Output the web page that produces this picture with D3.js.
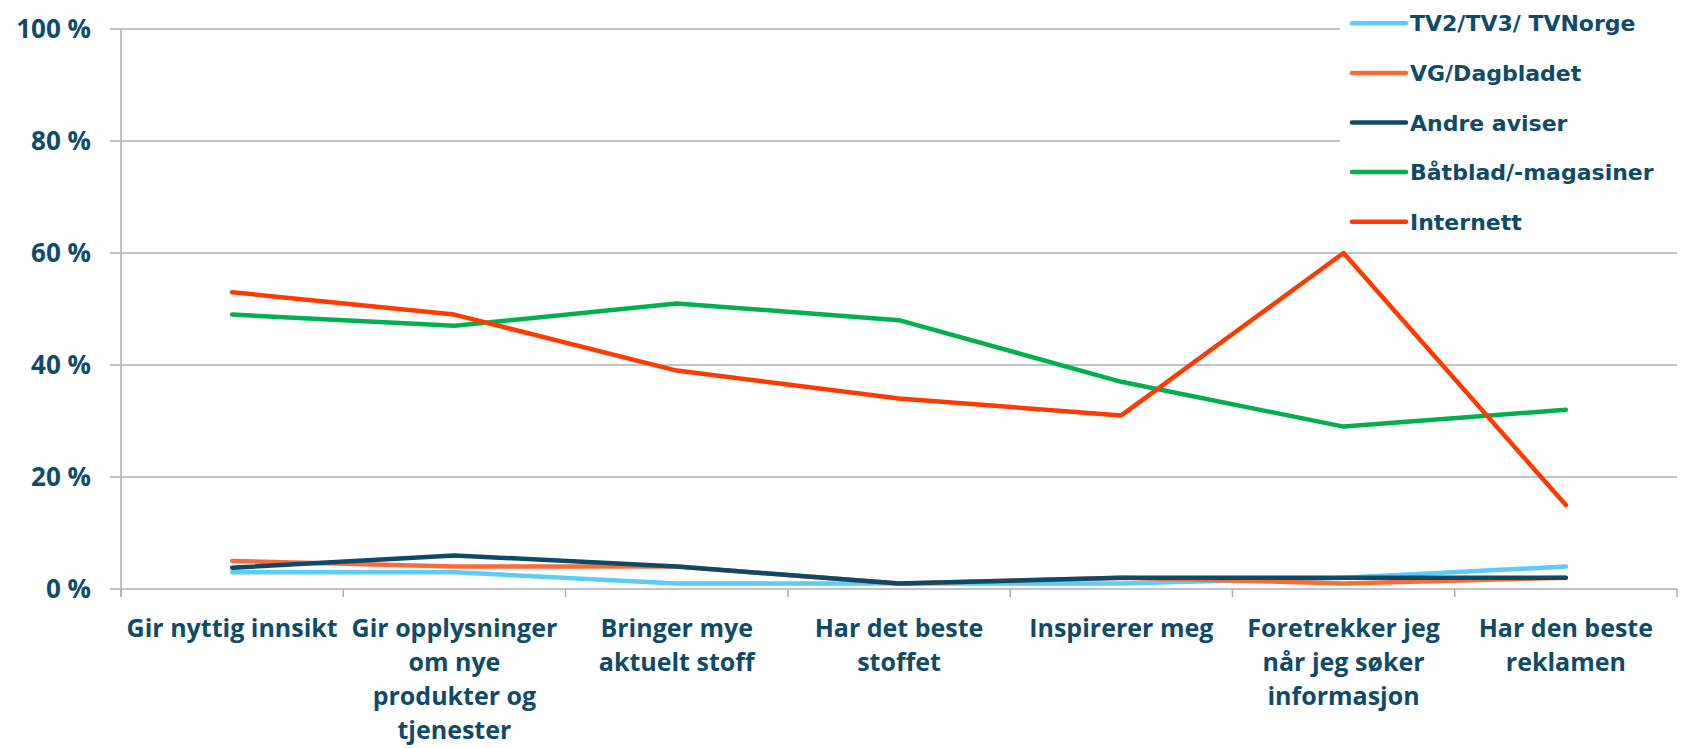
<!DOCTYPE html>
<html>
<head>
<meta charset="utf-8">
<script src="https://cdn.jsdelivr.net/npm/d3@7"></script>
<style>
  html, body { margin: 0; padding: 0; background: #fff; }
  svg text { font-family: "Open Sans", "DejaVu Sans", sans-serif; font-weight: bold; fill: #0f4b67; }
  svg .legend text { font-family: "DejaVu Sans", Verdana, sans-serif; }
</style>
</head>
<body>
<div id="chart"></div>
<script>
// Kategorier (x-akse), linjeskift markert med |
const categories = [
    "Gir nyttig innsikt",
    "Gir opplysninger|om nye|produkter og|tjenester",
    "Bringer mye|aktuelt stoff",
    "Har det beste|stoffet",
    "Inspirerer meg",
    "Foretrekker jeg|når jeg søker|informasjon",
    "Har den beste|reklamen"
];

const seriesNames = ["TV2/TV3/ TVNorge", "VG/Dagbladet", "Andre aviser", "Båtblad/-magasiner", "Internett"];

// Verdier i prosent, lest av bildet
const tv2 = [3, 3, 1, 1, 1, 2, 4];
const vg = [5, 4, 4, 1, 2, 1, 2];
const andre = [3.8, 6, 4, 1, 2, 2, 2];
const baatblad = [49, 47, 51, 48, 37, 29, 32];
const internett = [53, 49, 39, 34, 31, 60, 15];

const yTicks = [0, 20, 40, 60, 80, 100];

const seriesValues = [tv2, vg, andre, baatblad, internett];
const colors = ["#5ccbf6", "#fb6b3a", "#0d4a66", "#00b04f", "#ff3a00"];

const W = 1688, H = 748;
const margin = { top: 29, right: 11, bottom: 159, left: 121 };

const svg = d3.select("#chart")
    .append("svg")
    .attr("width", W)
    .attr("height", H);

const xScale = d3.scaleBand()
    .domain(categories)
    .range([margin.left, W - margin.right])
    .padding(0);

const yScale = d3.scaleLinear()
    .domain([0, 100])
    .range([H - margin.bottom, margin.top]);

const gridColor = "#a9b0ba";

// Rutenett
svg.append("g")
    .selectAll("line")
    .data(yTicks)
    .enter()
    .append("line")
    .attr("x1", margin.left - 11)
    .attr("x2", W - margin.right)
    .attr("y1", d => yScale(d))
    .attr("y2", d => yScale(d))
    .attr("stroke", gridColor)
    .attr("stroke-width", 1.5);

// Y-akse
const yAxis = svg.append("g")
    .attr("transform", `translate(${margin.left}, 0)`)
    .call(d3.axisLeft(yScale).tickValues(yTicks).tickSize(0).tickPadding(30).tickFormat(d => d + " %"));
yAxis.select(".domain").remove();
yAxis.selectAll("text")
    .style("font-size", "26px")
    .attr("fill", "#0f4b67");

svg.append("line")
    .attr("x1", margin.left)
    .attr("x2", margin.left)
    .attr("y1", yScale(100))
    .attr("y2", yScale(0) + 8)
    .attr("stroke", gridColor)
    .attr("stroke-width", 1.5);

// X-akse: streker mellom kategoriene
const boundaries = categories.map(c => xScale(c)).concat([xScale.range()[1]]);
svg.append("g")
    .selectAll("line")
    .data(boundaries)
    .enter()
    .append("line")
    .attr("x1", d => d)
    .attr("x2", d => d)
    .attr("y1", yScale(0))
    .attr("y2", yScale(0) + 8)
    .attr("stroke", gridColor)
    .attr("stroke-width", 1.5);

// X-etiketter
const labels = svg.append("g")
    .selectAll("text")
    .data(categories)
    .enter()
    .append("text")
    .attr("text-anchor", "middle")
    .attr("x", d => xScale(d) + xScale.bandwidth() / 2)
    .attr("y", yScale(0) + 48)
    .style("font-size", "25px");

labels.selectAll("tspan")
    .data(d => d.split("|"))
    .enter()
    .append("tspan")
    .attr("x", function () { return this.parentNode.getAttribute("x"); })
    .attr("dy", (d, i) => i === 0 ? 0 : 34)
    .text(d => d);

// Linjer
const line = d3.line()
    .x((d, i) => xScale(categories[i]) + xScale.bandwidth() / 2)
    .y(d => yScale(d));

seriesValues.forEach((vals, i) => {
    svg.append("path")
        .datum(vals)
        .attr("d", line)
        .attr("fill", "none")
        .attr("stroke", colors[i])
        .attr("stroke-width", 4.5)
        .attr("stroke-linejoin", "round")
        .attr("stroke-linecap", "round");
});

// Legende
const legend = svg.append("g").attr("class", "legend");
legend.append("rect")
    .attr("x", 1340)
    .attr("y", 0)
    .attr("width", W - 1340)
    .attr("height", 245)
    .attr("fill", "#fff");

seriesNames.forEach((name, i) => {
    const item = legend.append("g")
        .attr("transform", `translate(1352, ${23.3 + i * 49.6})`);
    item.append("line")
        .attr("x1", 0)
        .attr("x2", 54)
        .attr("stroke", colors[i])
        .attr("stroke-width", 4.5)
        .attr("stroke-linecap", "round");
    item.append("text")
        .attr("x", 58)
        .attr("y", 8)
        .text(name)
        .style("font-size", "22px");
});
</script>
</body>
</html>
